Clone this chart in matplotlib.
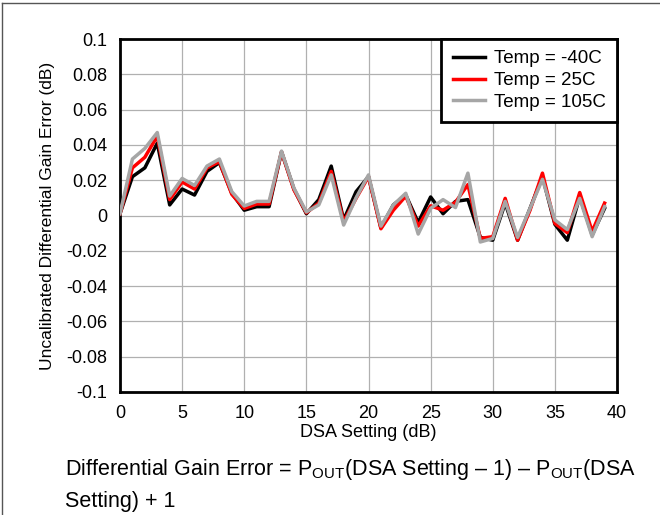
import matplotlib
matplotlib.use("Agg")
import matplotlib.pyplot as plt
from matplotlib.lines import Line2D
from matplotlib.ticker import FuncFormatter, MultipleLocator

plt.rcParams['font.family'] = ['Liberation Sans', 'DejaVu Sans']
plt.rcParams['mathtext.fontset'] = 'custom'
plt.rcParams['mathtext.rm'] = 'Liberation Sans'
plt.rcParams['mathtext.it'] = 'Liberation Sans:italic'
plt.rcParams['mathtext.bf'] = 'Liberation Sans:bold'

dsa = list(range(40))
err_m40 = [0.001, 0.022, 0.027, 0.041, 0.006, 0.015, 0.0116, 0.025, 0.030, 0.0126,
           0.003, 0.005, 0.005, 0.036, 0.015, 0.001, 0.009, 0.028, -0.0025, 0.0135,
           0.022, -0.007, 0.006, 0.0116, -0.004, 0.0105, 0.001, 0.008, 0.009, -0.0124,
           -0.014, 0.007, -0.014, 0.004, 0.022, -0.005, -0.014, 0.0107, -0.011, 0.004]
err_25 = [0.001, 0.027, 0.033, 0.045, 0.009, 0.019, 0.015, 0.027, 0.0305, 0.012,
          0.004, 0.0065, 0.0065, 0.036, 0.0145, 0.0015, 0.007, 0.025, -0.0035, 0.0097,
          0.022, -0.0075, 0.003, 0.011, -0.006, 0.0055, 0.003, 0.0075, 0.0175, -0.013,
          -0.012, 0.0097, -0.014, 0.003, 0.024, -0.0045, -0.0097, 0.013, -0.009, 0.007]
err_105 = [0.001, 0.032, 0.038, 0.047, 0.011, 0.021, 0.017, 0.028, 0.032, 0.0135,
           0.0054, 0.008, 0.008, 0.0365, 0.0155, 0.002, 0.006, 0.023, -0.0054, 0.010,
           0.023, -0.006, 0.006, 0.0126, -0.0105, 0.004, 0.009, 0.0045, 0.024, -0.015,
           -0.013, 0.008, -0.0124, 0.004, 0.0205, -0.0025, -0.008, 0.0097, -0.012, 0.005]
series_labels = ['Temp = -40C', 'Temp = 25C', 'Temp = 105C']
x_ticks = [0, 5, 10, 15, 20, 25, 30, 35, 40]

fig = plt.figure(figsize=(6.6, 5.15), dpi=100)
ax = fig.add_axes([120/660, 1-392/515, (617-120)/660, (392-39)/515])

ax.plot(dsa, err_m40, color='black', lw=2.5, label=series_labels[0], zorder=3)
ax.plot(dsa, err_25, color='#ff0000', lw=2.5, label=series_labels[1], zorder=4)
ax.plot(dsa, err_105, color='#a6a6a6', lw=2.5, label=series_labels[2], zorder=5)

ax.set_xlim(0, 40)
ax.set_ylim(-0.1, 0.1)
ax.set_xticks(x_ticks)
ax.yaxis.set_major_locator(MultipleLocator(0.02))
ax.yaxis.set_major_formatter(FuncFormatter(lambda v, p: '0' if abs(v) < 1e-9 else ('%g' % round(v, 2))))
ax.tick_params(length=0, labelsize=13, pad=9)
ax.grid(True, color='#b0b0b0', lw=0.9)
ax.set_axisbelow(True)
for s in ax.spines.values():
    s.set_linewidth(2)
    s.set_color('black')

ax.set_xlabel('DSA Setting (dB)', fontsize=13, labelpad=2)
ax.set_ylabel('Uncalibrated Differential Gain Error (dB)', fontsize=12.5, labelpad=8)

leg = ax.legend(loc='upper right', fontsize=13.5, frameon=True, fancybox=False,
                borderaxespad=0, handlelength=1.75, handletextpad=0.45,
                labelspacing=0.25, borderpad=0.6)
leg.get_frame().set_edgecolor('black')
leg.get_frame().set_linewidth(2)
leg.get_frame().set_alpha(1)

fig.text(65/660, 1-470/515, r'Differential Gain Error = P$_{\mathrm{OUT}}$(DSA Setting – 1) – P$_{\mathrm{OUT}}$(DSA',
         fontsize=15.5, va='center', ha='left')
fig.text(65/660, 1-501/515, 'Setting) + 1', fontsize=15.5, va='center', ha='left')

fig.add_artist(Line2D([2/660, 1], [1-3/515, 1-3/515], color='#555555', lw=1, transform=fig.transFigure))
fig.add_artist(Line2D([2/660, 2/660], [0, 1-3/515], color='#555555', lw=1, transform=fig.transFigure))

fig.savefig('out.png', dpi=100)
